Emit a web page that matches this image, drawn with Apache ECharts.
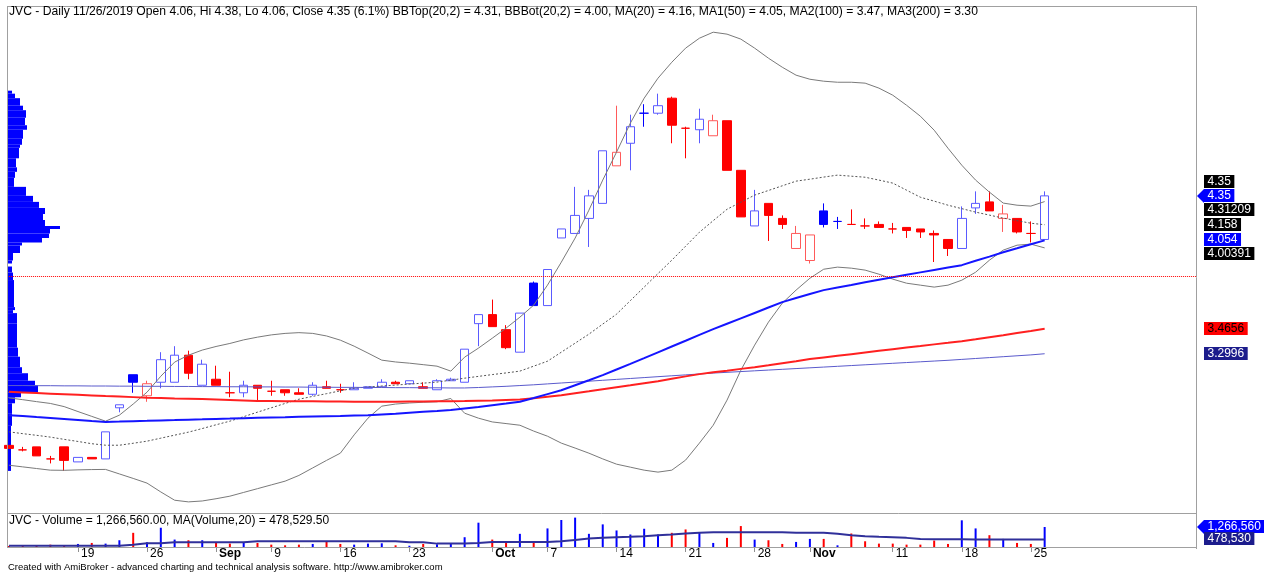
<!DOCTYPE html>
<html>
<head>
<meta charset="utf-8">
<title>JVC - Daily</title>
<script src="https://cdn.jsdelivr.net/npm/echarts@6.0.0/dist/echarts.min.js"></script>
<style>
  html, body { margin: 0; padding: 0; background: #fff; }
  #chart { width: 1264px; height: 578px; }
</style>
</head>
<body>
<div id="chart"></div>
<script>
// JVC daily, 12 Aug - 26 Nov 2019 (AmiBroker style)
const symbol = 'JVC'

const dates = [
  '2019-08-12', '2019-08-13', '2019-08-14', '2019-08-15', '2019-08-16',
  '2019-08-19', '2019-08-20', '2019-08-21', '2019-08-22', '2019-08-23',
  '2019-08-26', '2019-08-27', '2019-08-28', '2019-08-29', '2019-08-30',
  '2019-09-03', '2019-09-04', '2019-09-05', '2019-09-06',
  '2019-09-09', '2019-09-10', '2019-09-11', '2019-09-12', '2019-09-13',
  '2019-09-16', '2019-09-17', '2019-09-18', '2019-09-19', '2019-09-20',
  '2019-09-23', '2019-09-24', '2019-09-25', '2019-09-26', '2019-09-27',
  '2019-09-30', '2019-10-01', '2019-10-02', '2019-10-03', '2019-10-04',
  '2019-10-07', '2019-10-08', '2019-10-09', '2019-10-10', '2019-10-11',
  '2019-10-14', '2019-10-15', '2019-10-16', '2019-10-17', '2019-10-18',
  '2019-10-21', '2019-10-22', '2019-10-23', '2019-10-24', '2019-10-25',
  '2019-10-28', '2019-10-29', '2019-10-30', '2019-10-31', '2019-11-01',
  '2019-11-04', '2019-11-05', '2019-11-06', '2019-11-07', '2019-11-08',
  '2019-11-11', '2019-11-12', '2019-11-13', '2019-11-14', '2019-11-15',
  '2019-11-18', '2019-11-19', '2019-11-20', '2019-11-21', '2019-11-22',
  '2019-11-25', '2019-11-26'
]

const openP = [
  2.69, 2.66, 2.68, 2.60, 2.68, 2.58, 2.61, 2.60, 2.94, 3.16,
  3.02, 3.11, 3.11, 3.29, 3.09, 3.13, 3.04, 3.04, 3.09, 3.05,
  3.06, 3.04, 3.03, 3.08, 3.06, 3.06, 3.07, 3.08, 3.11, 3.10,
  3.08, 3.06, 3.12, 3.11, 3.50, 3.56, 3.46, 3.31, 3.77, 3.62,
  4.07, 4.10, 4.20, 4.30, 4.55, 4.70, 4.90, 4.90, 5.00, 4.80,
  4.79, 4.75, 4.85, 4.52, 4.15, 4.30, 4.20, 4.00, 3.92, 4.25,
  4.18, 4.16, 4.15, 4.16, 4.13, 4.14, 4.13, 4.10, 4.06, 4.00,
  4.27, 4.31, 4.20, 4.20, 4.10, 4.06
]
const highP = [
  2.69, 2.68, 2.68, 2.62, 2.68, 2.61, 2.61, 2.78, 2.96, 3.16,
  3.12, 3.31, 3.35, 3.32, 3.26, 3.22, 3.18, 3.12, 3.09, 3.12,
  3.06, 3.07, 3.11, 3.12, 3.10, 3.11, 3.08, 3.13, 3.12, 3.12,
  3.11, 3.13, 3.14, 3.33, 3.56, 3.66, 3.49, 3.57, 3.78, 3.86,
  4.13, 4.41, 4.39, 4.65, 4.95, 4.89, 4.96, 5.03, 5.01, 4.81,
  4.93, 4.89, 4.85, 4.52, 4.39, 4.30, 4.22, 4.15, 4.09, 4.30,
  4.21, 4.26, 4.20, 4.18, 4.17, 4.14, 4.13, 4.12, 4.06, 4.28,
  4.38, 4.38, 4.29, 4.20, 4.18, 4.38
]
const lowP = [
  2.67, 2.65, 2.62, 2.57, 2.52, 2.58, 2.60, 2.60, 2.91, 3.04,
  2.98, 3.07, 3.11, 3.13, 3.09, 3.09, 3.01, 3.01, 2.98, 3.02,
  3.02, 3.03, 3.02, 3.07, 3.04, 3.06, 3.07, 3.08, 3.10, 3.10,
  3.07, 3.06, 3.12, 3.11, 3.35, 3.48, 3.33, 3.31, 3.62, 3.62,
  4.07, 4.10, 4.01, 4.30, 4.55, 4.52, 4.81, 4.89, 4.70, 4.60,
  4.70, 4.75, 4.52, 4.21, 4.15, 4.05, 4.13, 4.00, 3.90, 4.14,
  4.13, 4.16, 4.13, 4.14, 4.10, 4.07, 4.07, 3.91, 3.95, 4.00,
  4.23, 4.25, 4.11, 4.10, 4.04, 4.06
]
const closeP = [
  2.67, 2.66, 2.62, 2.60, 2.59, 2.61, 2.60, 2.78, 2.96, 3.11,
  3.10, 3.26, 3.29, 3.17, 3.23, 3.09, 3.04, 3.09, 3.07, 3.05,
  3.04, 3.03, 3.09, 3.07, 3.06, 3.07, 3.08, 3.11, 3.10, 3.12,
  3.07, 3.12, 3.13, 3.33, 3.56, 3.48, 3.34, 3.57, 3.62, 3.86,
  4.13, 4.22, 4.35, 4.65, 4.64, 4.81, 4.90, 4.95, 4.82, 4.80,
  4.86, 4.85, 4.52, 4.21, 4.25, 4.22, 4.16, 4.10, 4.09, 4.16,
  4.18, 4.16, 4.15, 4.14, 4.13, 4.12, 4.11, 4.09, 4.00, 4.20,
  4.30, 4.25, 4.23, 4.11, 4.10, 4.35
]

const volume = [
  63000, 85000, 107000, 150000, 107000, 193000, 257000, 214000, 428000, 898000,
  300000, 1219000, 470000, 428000, 428000, 257000, 214000, 300000, 257000, 150000,
  107000, 150000, 193000, 321000, 193000, 150000, 214000, 235000, 107000, 80000,
  193000, 171000, 235000, 620000, 1540000, 470000, 257000, 834000, 300000, 1177000,
  1711000, 1861000, 834000, 1433000, 1048000, 791000, 1155000, 791000, 898000, 1112000,
  941000, 257000, 577000, 1326000, 470000, 428000, 193000, 321000, 513000, 513000,
  107000, 855000, 363000, 214000, 214000, 150000, 150000, 406000, 193000, 1690000,
  1177000, 748000, 513000, 257000, 193000, 1266560
]
const volMa20 = [
  85000, 85000, 85000, 85000, 85000, 85000, 85000, 85000, 150000, 235000,
  235000, 300000, 300000, 300000, 300000, 300000, 300000, 363000, 363000, 363000,
  363000, 363000, 363000, 363000, 363000, 363000, 363000, 363000, 300000, 300000,
  214000, 214000, 214000, 257000, 320000, 320000, 320000, 320000, 320000, 363000,
  449000, 535000, 578000, 620000, 642000, 684000, 748000, 791000, 855000, 898000,
  941000, 941000, 941000, 941000, 941000, 941000, 898000, 898000, 898000, 834000,
  748000, 684000, 642000, 620000, 578000, 513000, 492000, 492000, 492000, 480000,
  480000, 480000, 480000, 480000, 480000, 478529.5
]

const ma20 = [
  2.780, 2.768, 2.757, 2.745, 2.730, 2.716, 2.701, 2.691, 2.691, 2.704,
  2.718, 2.738, 2.758, 2.778, 2.802, 2.827, 2.851, 2.881, 2.911, 2.940,
  2.969, 2.997, 3.016, 3.034, 3.053, 3.071, 3.078, 3.085, 3.091, 3.098,
  3.104, 3.111, 3.124, 3.137, 3.149, 3.161, 3.172, 3.184, 3.217, 3.250,
  3.310, 3.370, 3.430, 3.497, 3.563, 3.653, 3.743, 3.833, 3.922, 4.015,
  4.108, 4.185, 4.261, 4.308, 4.355, 4.386, 4.417, 4.448, 4.461, 4.475,
  4.488, 4.481, 4.474, 4.455, 4.435, 4.388, 4.341, 4.315, 4.288, 4.265,
  4.242, 4.222, 4.202, 4.185, 4.168, 4.158
]
const bbTop = [
  3.006, 2.994, 2.981, 2.969, 2.948, 2.915, 2.883, 2.851, 2.891, 2.965,
  3.044, 3.150, 3.244, 3.290, 3.324, 3.348, 3.368, 3.392, 3.410, 3.425,
  3.435, 3.440, 3.435, 3.418, 3.390, 3.350, 3.304, 3.257, 3.245, 3.237,
  3.227, 3.217, 3.184, 3.277, 3.337, 3.403, 3.470, 3.543, 3.623, 3.756,
  3.909, 4.069, 4.255, 4.455, 4.641, 4.834, 5.000, 5.133, 5.239, 5.333,
  5.399, 5.439, 5.426, 5.393, 5.333, 5.266, 5.206, 5.153, 5.126, 5.113,
  5.106, 5.106, 5.100, 5.067, 5.020, 4.953, 4.880, 4.787, 4.667, 4.554,
  4.455, 4.375, 4.302, 4.288, 4.282, 4.312
]
const bbBot = [
  2.558, 2.547, 2.536, 2.525, 2.524, 2.527, 2.529, 2.530, 2.500, 2.470,
  2.439, 2.380, 2.325, 2.314, 2.320, 2.335, 2.352, 2.377, 2.402, 2.427,
  2.452, 2.490, 2.540, 2.590, 2.638, 2.760, 2.871, 2.951, 2.965, 2.972,
  2.977, 2.980, 3.002, 2.904, 2.871, 2.846, 2.835, 2.824, 2.785, 2.751,
  2.705, 2.672, 2.638, 2.600, 2.565, 2.545, 2.525, 2.512, 2.525, 2.592,
  2.705, 2.824, 2.991, 3.190, 3.357, 3.510, 3.636, 3.723, 3.802, 3.862,
  3.876, 3.869, 3.856, 3.829, 3.796, 3.769, 3.756, 3.743, 3.756, 3.789,
  3.842, 3.922, 3.989, 4.022, 4.029, 4.004
]
const ma50 = [
  2.891, 2.885, 2.878, 2.872, 2.866, 2.859, 2.852, 2.846, 2.848, 2.851,
  2.853, 2.856, 2.858, 2.861, 2.863, 2.866, 2.868, 2.871, 2.873, 2.875,
  2.877, 2.880, 2.882, 2.884, 2.886, 2.889, 2.891, 2.896, 2.901, 2.907,
  2.913, 2.919, 2.926, 2.936, 2.946, 2.957, 2.968, 2.980, 3.005, 3.031,
  3.057, 3.090, 3.123, 3.157, 3.195, 3.232, 3.270, 3.309, 3.348, 3.386,
  3.425, 3.463, 3.499, 3.535, 3.571, 3.607, 3.643, 3.670, 3.697, 3.723,
  3.740, 3.757, 3.775, 3.792, 3.809, 3.825, 3.841, 3.857, 3.873, 3.889,
  3.918, 3.946, 3.975, 4.001, 4.028, 4.054
]
const ma100 = [
  3.046, 3.042, 3.038, 3.034, 3.030, 3.026, 3.022, 3.018, 3.015, 3.011,
  3.007, 3.005, 3.002, 3.000, 2.998, 2.995, 2.992, 2.989, 2.986, 2.985,
  2.984, 2.984, 2.983, 2.982, 2.982, 2.981, 2.981, 2.980, 2.981, 2.982,
  2.982, 2.983, 2.984, 2.985, 2.987, 2.989, 2.992, 2.995, 3.004, 3.014,
  3.024, 3.037, 3.050, 3.064, 3.077, 3.090, 3.104, 3.117, 3.133, 3.149,
  3.164, 3.176, 3.187, 3.199, 3.210, 3.223, 3.237, 3.250, 3.264, 3.275,
  3.286, 3.297, 3.308, 3.319, 3.330, 3.341, 3.351, 3.362, 3.372, 3.383,
  3.396, 3.410, 3.423, 3.437, 3.451, 3.4656
]
const ma200 = [
  3.088, 3.088, 3.087, 3.087, 3.086, 3.086, 3.085, 3.085, 3.084, 3.084,
  3.083, 3.083, 3.082, 3.082, 3.081, 3.081, 3.080, 3.080, 3.079, 3.079,
  3.078, 3.078, 3.077, 3.077, 3.076, 3.076, 3.075, 3.075, 3.074, 3.074,
  3.073, 3.073, 3.072, 3.072, 3.075, 3.079, 3.083, 3.088, 3.093, 3.099,
  3.105, 3.111, 3.117, 3.123, 3.129, 3.135, 3.141, 3.147, 3.153, 3.159,
  3.165, 3.171, 3.176, 3.181, 3.186, 3.191, 3.196, 3.201, 3.206, 3.211,
  3.216, 3.221, 3.226, 3.231, 3.236, 3.241, 3.246, 3.251, 3.256, 3.262,
  3.268, 3.274, 3.280, 3.286, 3.292, 3.2996
]

// volume at price (left histogram): bin edges from top to bottom, volume per bin
const vapEdges = [
  5.05, 5.03, 5.00, 4.95, 4.92, 4.87, 4.82, 4.79, 4.73, 4.69,
  4.67, 4.60, 4.54, 4.51, 4.47, 4.41, 4.35, 4.31, 4.27, 4.23,
  4.19, 4.15, 4.13, 4.10, 4.07, 4.04, 4.02, 3.97, 3.92, 3.90,
  3.88, 3.84, 3.79, 3.61, 3.59, 3.57, 3.50, 3.34, 3.28, 3.21,
  3.17, 3.12, 3.09, 3.04, 3.01, 2.97, 2.90, 2.82, 2.52
]
const vapVolume = [
  400000, 700000, 1200000, 1500000, 1800000, 1700000, 1900000, 1500000, 1400000, 1200000,
  1100000, 800000, 900000, 700000, 600000, 1800000, 2500000, 3100000, 3700000, 3500000,
  3700000, 5200000, 4200000, 4100000, 3400000, 1400000, 1200000, 500000, 400000, 0,
  400000, 500000, 600000, 700000, 500000, 900000, 900000, 1000000, 1200000, 1400000,
  2000000, 2700000, 3000000, 1300000, 700000, 400000, 400000, 300000
]

const levelLine = 3.82

const tickDates = [
  '2019-08-19', '2019-08-26', '2019-09-03', '2019-09-09', '2019-09-16',
  '2019-09-23', '2019-10-01', '2019-10-07', '2019-10-14', '2019-10-21',
  '2019-10-28', '2019-11-01', '2019-11-11', '2019-11-18', '2019-11-25'
]
const tickTexts = ['19', '26', 'Sep', '9', '16', '23', 'Oct', '7', '14', '21', '28', 'Nov', '11', '18', '25']

const priceTagTexts = ['4.35', '4.35', '4.31209', '4.158', '4.054', '4.00391', '3.4656', '3.2996']
const priceTagValues = [4.35, 4.35, 4.31209, 4.158, 4.054, 4.00391, 3.4656, 3.2996]
const volTagTexts = ['1,266,560', '478,530']
const volTagValues = [1266560, 478530]

// ---------- styles / layout ----------
const FONT = '"Liberation Sans", Arial, sans-serif'
const UP = '#0000ff'
const DOWN = '#ff0000'
const UP_LINE = '#5a5aff'     // 1px outlines look lighter in the original
const DOWN_LINE = '#ff5a5a'
const FRAME = '#a0a0a0'
const STEP = 13.81           // px per bar
const PAD_BARS = 11          // empty slots right of the last bar
const GRID_LEFT = 2
const FRAME_L = 7, FRAME_R = 1196, FRAME_T = 6, SPLIT_Y = 513, BASE_Y = 547

const categories = dates.concat(Array.from({ length: PAD_BARS }, (_, i) => 'pad' + i))
const gridWidth = categories.length * STEP

const tickMap = {}
tickDates.forEach((d, i) => { tickMap[d] = tickTexts[i] })
const monthNames = ['Sep', 'Oct', 'Nov']

function isUp(i) {
  const ref = i > 0 ? closeP[i - 1] : openP[i]
  return closeP[i] > ref
}

const candleData = dates.map((d, i) => {
  const up = isUp(i)
  const hollow = closeP[i] > openP[i]
  const solid = up ? UP : DOWN
  const thin = up ? UP_LINE : DOWN_LINE
  const fill = hollow ? '#ffffff' : solid
  const border = hollow ? thin : solid
  return {
    value: [openP[i], closeP[i], lowP[i], highP[i]],
    itemStyle: { color: fill, color0: fill, borderColor: border, borderColor0: border, borderWidth: 1 }
  }
})

const volData = volume.map((v, i) => {
  let col
  if (closeP[i] > openP[i]) col = UP
  else if (closeP[i] < openP[i]) col = DOWN
  else col = isUp(i) ? UP : DOWN
  return { value: v, itemStyle: { color: col } }
})

const vapData = vapVolume.map((v, i) => [v, vapEdges[i + 1], vapEdges[i]])

function maLine(data, color, width, type) {
  return {
    type: 'line', xAxisIndex: 0, yAxisIndex: 0, data,
    symbol: 'none', silent: true, z: 3,
    lineStyle: { color, width, type: type || 'solid' }
  }
}

// ---------- header texts ----------
const last = dates.length - 1
const f2 = v => v.toFixed(2)
const chg = ((closeP[last] - closeP[last - 1]) / closeP[last - 1] * 100).toFixed(1)
const [yy, mm, dd] = dates[last].split('-')
const titleText =
  `{k|${symbol} - Daily ${mm}/${dd}/${yy} Open ${f2(openP[last])}, Hi ${f2(highP[last])}, Lo ${f2(lowP[last])}, ` +
  `Close ${f2(closeP[last])} (${chg}%) BBTop(20,2) = ${f2(bbTop[last])}, BBBot(20,2) = ${f2(bbBot[last])}, ` +
  `MA(20) = ${f2(ma20[last])}, }{b|MA1(50)}{k| = ${f2(ma50[last])}, }{r|MA2(100)}{k| = ${f2(ma100[last])}, }` +
  `{n|MA3(200)}{k| = ${f2(ma200[last])}}`
const fmt2 = v => v.toLocaleString('en-US', { minimumFractionDigits: 2, maximumFractionDigits: 2 })
const volTitle = `{k|${symbol} - }{b|Volume}{k| = ${fmt2(volume[last])}, }{n|MA(Volume,20)}{k| = ${fmt2(volMa20[last])}}`

function richSet(size) {
  const base = { fontFamily: FONT, fontSize: size, color: '#000' }
  return {
    k: base,
    b: Object.assign({}, base, { color: '#0000ff' }),
    r: Object.assign({}, base, { color: '#ff0000' }),
    n: Object.assign({}, base, { color: '#2b2ba0' })
  }
}

const chart = echarts.init(document.getElementById('chart'))

const option = {
  animation: false,
  backgroundColor: '#ffffff',
  grid: [
    { left: GRID_LEFT, top: 8, width: gridWidth, height: 502, outerBoundsMode: 'none' },
    { left: GRID_LEFT, top: SPLIT_Y + 1, width: gridWidth, height: BASE_Y - SPLIT_Y - 1, outerBoundsMode: 'none' },
    { left: 8, top: 8, width: 300, height: 502, outerBoundsMode: 'none' }
  ],
  xAxis: [
    { type: 'category', gridIndex: 0, data: categories, show: false },
    {
      type: 'category', gridIndex: 1, data: categories,
      axisLine: { show: false },
      axisTick: {
        show: true, alignWithLabel: true, length: 5,
        interval: (idx, val) => tickMap[val] !== undefined,
        lineStyle: { color: '#909090' }
      },
      axisLabel: {
        show: true, margin: 1, align: 'left', padding: [0, 0, 0, 3],
        interval: (idx, val) => tickMap[val] !== undefined,
        formatter: val => {
          const t = tickMap[val]
          if (t === undefined) return ''
          return monthNames.includes(t) ? '{m|' + t + '}' : '{d|' + t + '}'
        },
        rich: {
          d: { fontFamily: FONT, fontSize: 12, color: '#000' },
          m: { fontFamily: FONT, fontSize: 12, color: '#000', fontWeight: 'bold' }
        }
      },
      splitLine: { show: false }
    },
    { type: 'value', gridIndex: 2, min: 0, max: 30000000, show: false }
  ],
  yAxis: [
    { type: 'value', gridIndex: 0, min: 2.26, max: 5.6, show: false, splitLine: { show: false } },
    { type: 'value', gridIndex: 1, min: 0, max: 2090000, show: false, splitLine: { show: false } },
    { type: 'value', gridIndex: 2, min: 2.26, max: 5.6, show: false, splitLine: { show: false } }
  ],
  series: [
    {
      type: 'custom', xAxisIndex: 2, yAxisIndex: 2, z: 1, silent: true,
      data: vapData,
      renderItem: (params, api) => {
        const top = api.coord([api.value(0), api.value(2)])
        const base = api.coord([0, api.value(1)])
        return {
          type: 'rect',
          shape: { x: base[0], y: top[1], width: top[0] - base[0], height: base[1] - top[1] },
          style: { fill: '#0000ff' }
        }
      }
    },
    {
      type: 'candlestick', xAxisIndex: 0, yAxisIndex: 0, z: 2, silent: true,
      barWidth: 9,
      data: candleData
    },
    maLine(bbTop, '#7a7a7a', 1),
    maLine(bbBot, '#7a7a7a', 1),
    maLine(ma20, '#555555', 1, [2, 2]),
    maLine(ma200, '#5a5acc', 1),
    maLine(ma100, '#ff2020', 2),
    maLine(ma50, '#1515ff', 2),
    {
      type: 'bar', xAxisIndex: 1, yAxisIndex: 1, barWidth: 2, silent: true,
      data: volData
    },
    {
      type: 'line', xAxisIndex: 1, yAxisIndex: 1, step: 'end', symbol: 'none', silent: true, z: 3,
      data: volMa20,
      lineStyle: { color: '#30309a', width: 2 }
    }
  ]
}

chart.setOption(option)

// ---------- frame, titles, level line and value tags ----------
const measure = document.createElement('canvas').getContext('2d')
measure.font = '12px ' + FONT

function layoutTags(values, axisFinder, anchor, gap) {
  const ys = values.map(v => chart.convertToPixel(axisFinder, v))
  for (let i = anchor - 1; i >= 0; i--) ys[i] = Math.min(ys[i], ys[i + 1] - gap)
  for (let i = anchor + 1; i < ys.length; i++) ys[i] = Math.max(ys[i], ys[i - 1] + gap)
  return ys
}

function tagGraphics(texts, ys, styles) {
  const out = []
  texts.forEach((t, i) => {
    const s = styles[i]
    const w = measure.measureText(t).width + 7
    const y = Math.round(ys[i])
    if (s.arrow) {
      out.push({ type: 'polygon', shape: { points: [[1197, y], [1204, y - 7], [1204, y + 7]] }, style: { fill: s.bg } })
    }
    out.push({ type: 'rect', shape: { x: 1204, y: y - 7, width: w, height: 13 }, style: { fill: s.bg } })
    out.push({
      type: 'text', x: 1207.5, y: y,
      style: { text: t, fill: s.fg, font: '12px ' + FONT, verticalAlign: 'middle', align: 'left' }
    })
  })
  return out
}

const black = { bg: '#000000', fg: '#ffffff' }
const priceTagStyles = [
  black,
  { bg: '#0000ff', fg: '#ffffff', arrow: true },
  black, black,
  { bg: '#0000ff', fg: '#ffffff' },
  black,
  { bg: '#ff0000', fg: '#000000' },
  { bg: '#1c1c8c', fg: '#ffffff' }
]
const volTagStyles = [
  { bg: '#0000ff', fg: '#ffffff', arrow: true },
  { bg: '#1c1c8c', fg: '#ffffff' }
]

const priceYs = layoutTags(priceTagValues, { yAxisIndex: 0 }, 1, 14)
const volYs = layoutTags(volTagValues, { yAxisIndex: 1 }, 0, 12)

// horizontal red dotted level, placed through the price scale
const levelY = Math.round(chart.convertToPixel({ yAxisIndex: 0 }, levelLine)) + 0.5
const levelX0 = chart.convertToPixel({ xAxisIndex: 0 }, categories[0])
const levelX1 = chart.convertToPixel({ xAxisIndex: 0 }, categories[categories.length - 1])

const line = (x1, y1, x2, y2) => ({
  type: 'line', shape: { x1, y1, x2, y2 }, style: { stroke: FRAME, lineWidth: 1 }, z: 10
})

const graphics = [
  {
    type: 'line', z: 5, silent: true,
    shape: { x1: levelX0, y1: levelY, x2: levelX1, y2: levelY },
    style: { stroke: '#ff0000', lineWidth: 1, lineDash: [1, 1] }
  },
  line(FRAME_L + 0.5, FRAME_T, FRAME_L + 0.5, BASE_Y + 1),
  line(FRAME_L, FRAME_T + 0.5, FRAME_R, FRAME_T + 0.5),
  line(FRAME_R + 0.5, FRAME_T, FRAME_R + 0.5, BASE_Y + 2),
  line(FRAME_L, SPLIT_Y + 0.5, FRAME_R, SPLIT_Y + 0.5),
  line(FRAME_L, BASE_Y + 0.5, FRAME_R, BASE_Y + 0.5),
  { type: 'text', x: 9, y: 12, z: 10, style: { text: titleText, rich: richSet(12.15), verticalAlign: 'middle' } },
  { type: 'text', x: 9, y: 521, z: 10, style: { text: volTitle, rich: richSet(12), verticalAlign: 'middle' } },
  {
    type: 'text', x: 8, y: 567, z: 10,
    style: {
      text: 'Created with AmiBroker - advanced charting and technical analysis software. http://www.amibroker.com',
      font: '9.5px ' + FONT, fill: '#000', verticalAlign: 'middle'
    }
  }
].concat(tagGraphics(priceTagTexts, priceYs, priceTagStyles))
 .concat(tagGraphics(volTagTexts, volYs, volTagStyles))

chart.setOption({ graphic: graphics })
</script>
</body>
</html>
